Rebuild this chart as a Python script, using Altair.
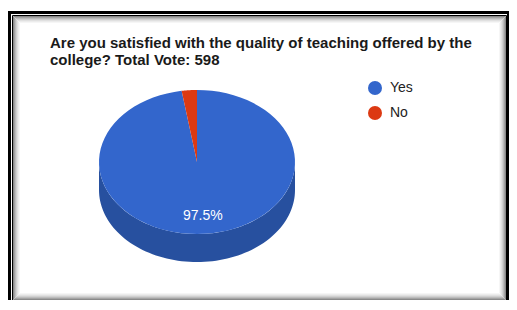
import altair as alt
import pandas as pd

labels = ["Yes", "No"]
votes = [583, 15]
colors = ["#3366cc", "#dc3912"]
side_colors = ["#27509f", "#a52b0e"]
title_lines = ["Are you satisfied with the quality of teaching offered by the",
               "college? Total Vote: 598"]

df = pd.DataFrame({"label": labels, "votes": votes, "side": side_colors,
                   "k": list(range(len(labels)))})

TILT = 0.735
DEPTH = 0.286
N = 80
W, H = 501, 292
CX, CY, R = 189, 154, 98
XD = [-CX / R, (W - CX) / R]
YD = [(CY - H) / R, CY / R]

xenc = alt.X("px:Q", scale=alt.Scale(domain=XD, nice=False, zero=False), axis=None)
yenc = alt.Y("py:Q", scale=alt.Scale(domain=YD, nice=False, zero=False), axis=None)

base = (alt.Chart(df)
        .transform_joinaggregate(total="sum(votes)")
        .transform_window(cum="sum(votes)", sort=[alt.SortField("k")], frame=[None, 0])
        .transform_calculate(f1="datum.cum / datum.total",
                             f0="(datum.cum - datum.votes) / datum.total"))

side = (base
        .transform_calculate(s="max(datum.f0, 0.25)", e="min(datum.f1, 0.75)")
        .transform_filter("datum.s < datum.e")
        .transform_calculate(i=f"sequence(0, {2 * N + 2})")
        .transform_flatten(["i"])
        .transform_calculate(
            t=f"datum.i <= {N} ? datum.i / {N} : ({2 * N + 1} - datum.i) / {N}")
        .transform_calculate(a="2 * PI * (datum.s + (datum.e - datum.s) * datum.t)")
        .transform_calculate(px="sin(datum.a)",
                             py=f"{TILT} * cos(datum.a) - (datum.i > {N} ? {DEPTH} : 0)")
        .mark_line(filled=True, strokeWidth=0)
        .encode(x=xenc, y=yenc, order=alt.Order("i:Q"),
                color=alt.Color("side:N", scale=None, legend=None),
                detail="label:N"))

top = (base
       .transform_calculate(i=f"sequence(-1, {N + 1})")
       .transform_flatten(["i"])
       .transform_calculate(
           a=f"2 * PI * (datum.f0 + (datum.f1 - datum.f0) * max(datum.i, 0) / {N})")
       .transform_calculate(px="datum.i < 0 ? 0 : sin(datum.a)",
                            py=f"datum.i < 0 ? 0 : {TILT} * cos(datum.a)")
       .mark_line(filled=True, strokeWidth=0)
       .encode(x=xenc, y=yenc, order=alt.Order("i:Q"),
               color=alt.Color("label:N",
                               scale=alt.Scale(domain=labels, range=colors),
                               legend=alt.Legend(title=None, orient="none",
                                                 legendX=360, legendY=73,
                                                 symbolType="circle", symbolSize=196,
                                                 symbolStrokeWidth=0, symbolOpacity=1,
                                                 labelFontSize=14, labelColor="#222222",
                                                 labelFont="Liberation Sans",
                                                 labelOffset=8, rowPadding=11,
                                                 padding=0))))

lab = (base
       .transform_filter("datum.votes / datum.total >= 0.05")
       .transform_calculate(m="PI * (datum.f0 + datum.f1)")
       .transform_calculate(px="0.75 * sin(datum.m)",
                            py=f"0.75 * {TILT} * cos(datum.m)",
                            pct="format(datum.votes / datum.total, '.1%')")
       .mark_text(color="white", fontSize=14, font="Liberation Sans", baseline="middle")
       .encode(x=xenc, y=yenc, text="pct:N"))

one = alt.Data(values=[{"t": 1}])

ttl = (alt.Chart(one)
       .mark_text(text=title_lines, align="left", baseline="alphabetic",
                  fontSize=15, fontWeight="bold", font="Liberation Sans",
                  color="#1a1a1a", lineHeight=17)
       .encode(x=alt.value(42), y=alt.value(40)))

# decorative screenshot frame
deco = []
for (x0, x1, y0, y1) in [(0, 3, 3, H), (0, W, 3, 6), (W - 2, W, 3, H)]:
    deco.append(alt.Chart(one).mark_rect(color="#000000")
                .encode(x=alt.value(x0), x2=alt.value(x1),
                        y=alt.value(y0), y2=alt.value(y1)))
deco.append(alt.Chart(one).mark_rect(fillOpacity=0, stroke="#000000", strokeWidth=1)
            .encode(x=alt.value(4.5), x2=alt.value(W - 2.5),
                    y=alt.value(7.5), y2=alt.value(H + 2)))
shades = ["#8a8a8a", "#a4a4a4", "#bcbcbc", "#d0d0d0", "#e0e0e0", "#ececec", "#f6f6f6"]
for k, c in enumerate(shades):
    deco.append(alt.Chart(one).mark_rect(fillOpacity=0, stroke=c, strokeWidth=1)
                .encode(x=alt.value(5.5 + k), x2=alt.value(W - 3.5 - k),
                        y=alt.value(8.5 + k), y2=alt.value(H - 0.5 - k)))

chart = (alt.layer(*deco, side, top, lab, ttl)
         .resolve_scale(color="independent")
         .properties(width=W, height=H, autosize="none", padding=0,
                     background="white")
         .configure_view(strokeWidth=0))

chart.save("out.html", embed_options={"renderer": "svg", "actions": False})
